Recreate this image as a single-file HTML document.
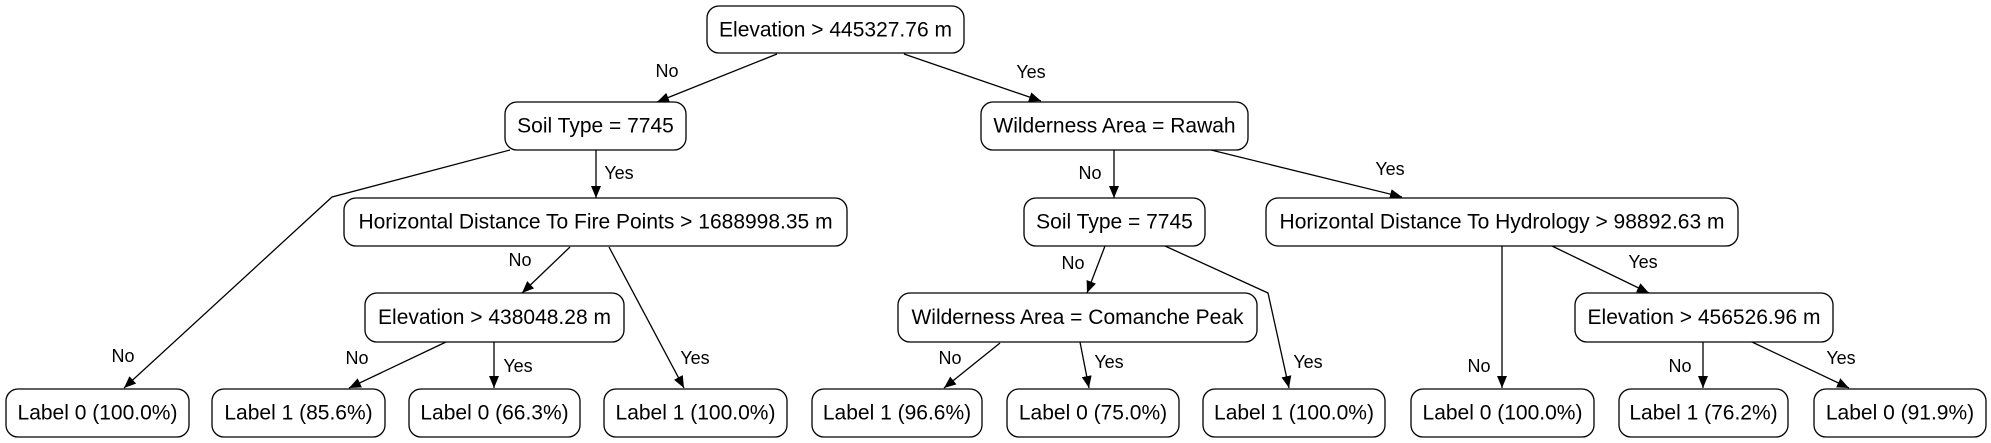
<!DOCTYPE html>
<html><head><meta charset="utf-8"><style>
html,body{margin:0;padding:0;background:#fff;}
svg{display:block;}
text{font-family:"Liberation Sans",Arial,sans-serif;fill:#000;}
.n{font-size:21px;text-anchor:middle;dominant-baseline:central;}
.e{font-size:18px;text-anchor:middle;dominant-baseline:central;}
rect{fill:#fff;stroke:#000;stroke-width:1.3;}
.l{fill:none;stroke:#000;stroke-width:1.3;marker-end:url(#a);}
</style></head><body>
<svg width="1991" height="443" viewBox="0 0 1991 443" xmlns="http://www.w3.org/2000/svg">
<defs><marker id="a" markerWidth="12" markerHeight="10" refX="12" refY="5" orient="auto" markerUnits="userSpaceOnUse"><polygon points="0,0 12,5 0,10" fill="#000"/></marker></defs>
<!-- edges -->
<polyline class="l" points="777,54 657,102"/>
<polyline class="l" points="904,54 1041,101"/>
<polyline class="l" points="596,150 596,198"/>
<polyline class="l" points="510,150 332,197 124,388"/>
<polyline class="l" points="570,247 522,293"/>
<polyline class="l" points="609,247 684,388"/>
<polyline class="l" points="446,342 349,388"/>
<polyline class="l" points="494,342 494,388"/>
<polyline class="l" points="1000,343 944,388"/>
<polyline class="l" points="1080,342 1089,388"/>
<polyline class="l" points="1114,150 1114,198"/>
<polyline class="l" points="1211,150 1402,197"/>
<polyline class="l" points="1105,246 1087,293"/>
<polyline class="l" points="1165,246 1268,293 1289,388"/>
<polyline class="l" points="1502,246 1502,388"/>
<polyline class="l" points="1552,246 1649,293"/>
<polyline class="l" points="1703,342 1703,388"/>
<polyline class="l" points="1752,342 1849,388"/>
<!-- edge labels -->
<text class="e" x="667" y="71">No</text>
<text class="e" x="1031" y="72">Yes</text>
<text class="e" x="619" y="173">Yes</text>
<text class="e" x="123" y="356">No</text>
<text class="e" x="520" y="260">No</text>
<text class="e" x="695" y="358">Yes</text>
<text class="e" x="357" y="358">No</text>
<text class="e" x="518" y="366">Yes</text>
<text class="e" x="950" y="358">No</text>
<text class="e" x="1109" y="362">Yes</text>
<text class="e" x="1090" y="173">No</text>
<text class="e" x="1390" y="169">Yes</text>
<text class="e" x="1073" y="263">No</text>
<text class="e" x="1308" y="362">Yes</text>
<text class="e" x="1479" y="366">No</text>
<text class="e" x="1643" y="262">Yes</text>
<text class="e" x="1680" y="366">No</text>
<text class="e" x="1841" y="358">Yes</text>
<!-- nodes -->
<rect x="707" y="6" width="257" height="47" rx="12"/><text class="n" x="835.5" y="30">Elevation &gt; 445327.76 m</text>
<rect x="505" y="102" width="181" height="48" rx="12"/><text class="n" x="595.5" y="126">Soil Type = 7745</text>
<rect x="981" y="102" width="267" height="48" rx="12"/><text class="n" x="1114.5" y="126">Wilderness Area = Rawah</text>
<rect x="344" y="198" width="503" height="48" rx="12"/><text class="n" x="595.5" y="222">Horizontal Distance To Fire Points &gt; 1688998.35 m</text>
<rect x="1024" y="198" width="181" height="48" rx="12"/><text class="n" x="1114.5" y="222">Soil Type = 7745</text>
<rect x="1266" y="198" width="472" height="48" rx="12"/><text class="n" x="1502" y="222">Horizontal Distance To Hydrology &gt; 98892.63 m</text>
<rect x="365" y="293" width="259" height="49" rx="12"/><text class="n" x="494.5" y="317.5">Elevation &gt; 438048.28 m</text>
<rect x="898" y="293" width="359" height="49" rx="12"/><text class="n" x="1077.5" y="317.5">Wilderness Area = Comanche Peak</text>
<rect x="1575" y="293" width="258" height="49" rx="12"/><text class="n" x="1704" y="317.5">Elevation &gt; 456526.96 m</text>
<rect x="6" y="389" width="183" height="48" rx="12"/><text class="n" x="97.5" y="413">Label 0 (100.0%)</text>
<rect x="212" y="389" width="173" height="48" rx="12"/><text class="n" x="298.5" y="413">Label 1 (85.6%)</text>
<rect x="409" y="389" width="171" height="48" rx="12"/><text class="n" x="494.5" y="413">Label 0 (66.3%)</text>
<rect x="604" y="389" width="183" height="48" rx="12"/><text class="n" x="695.5" y="413">Label 1 (100.0%)</text>
<rect x="812" y="389" width="170" height="48" rx="12"/><text class="n" x="897" y="413">Label 1 (96.6%)</text>
<rect x="1007" y="389" width="172" height="48" rx="12"/><text class="n" x="1093" y="413">Label 0 (75.0%)</text>
<rect x="1203" y="389" width="182" height="48" rx="12"/><text class="n" x="1294" y="413">Label 1 (100.0%)</text>
<rect x="1411" y="389" width="183" height="48" rx="12"/><text class="n" x="1502.5" y="413">Label 0 (100.0%)</text>
<rect x="1619" y="389" width="169" height="48" rx="12"/><text class="n" x="1703.5" y="413">Label 1 (76.2%)</text>
<rect x="1814" y="389" width="172" height="48" rx="12"/><text class="n" x="1900" y="413">Label 0 (91.9%)</text>
</svg>
</body></html>
